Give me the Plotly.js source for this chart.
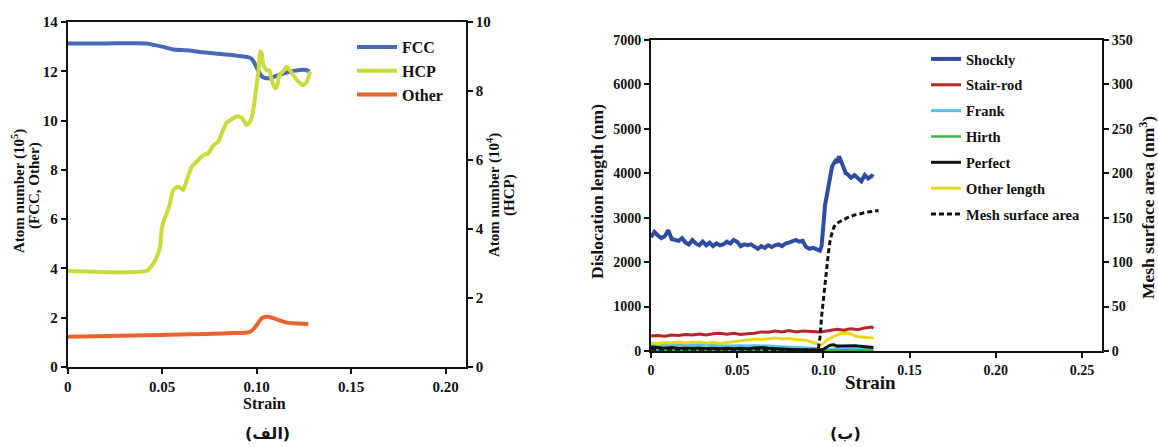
<!DOCTYPE html>
<html>
<head>
<meta charset="utf-8">
<script src="https://cdn.plot.ly/plotly-3.0.1.min.js"></script>
<style>
  html, body { margin: 0; padding: 0; background: #ffffff; }
  #chart { width: 1158px; height: 447px; }
</style>
</head>
<body>
<div id="chart"></div>
<script>
// ---------- Panel (الف): atom counts vs strain ----------
const fccStrain = [0, 0.02, 0.0418, 0.045, 0.05, 0.056, 0.063, 0.07, 0.078, 0.0877, 0.0965, 0.098, 0.1, 0.1026, 0.1044, 0.107, 0.1106, 0.1159, 0.1229, 0.126, 0.128];
const fccCount = [13.13, 13.13, 13.13, 13.08, 13.0, 12.88, 12.85, 12.78, 12.72, 12.65, 12.55, 12.45, 12.15, 11.8, 11.73, 11.72, 11.82, 11.95, 12.05, 12.05, 11.99];

const hcpStrain = [0, 0.0418, 0.0453, 0.0471, 0.0489, 0.0497, 0.0506, 0.0524, 0.0541, 0.0556, 0.0577, 0.0594, 0.0612, 0.063, 0.0656, 0.0683, 0.0718, 0.0744, 0.0771, 0.0797, 0.0815, 0.0841, 0.0868, 0.0894, 0.0921, 0.0947, 0.0965, 0.0982, 0.0996, 0.1009, 0.1018, 0.1026, 0.1035, 0.1053, 0.1067, 0.1079, 0.1097, 0.1109, 0.112, 0.1138, 0.1159, 0.1176, 0.1194, 0.122, 0.1247, 0.1265, 0.1282];
const hcpCount = [2.785, 2.785, 3.0, 3.19, 3.48, 3.97, 4.2, 4.45, 4.74, 5.1, 5.22, 5.2, 5.13, 5.42, 5.8, 5.95, 6.14, 6.2, 6.43, 6.53, 6.77, 7.08, 7.18, 7.27, 7.23, 7.01, 7.1, 7.45, 8.03, 8.56, 9.14, 9.1, 8.75, 8.6, 8.6, 8.32, 8.08, 8.17, 8.46, 8.56, 8.7, 8.6, 8.46, 8.27, 8.17, 8.27, 8.56];

const otherStrain = [0, 0.0489, 0.0841, 0.0965, 0.1, 0.1026, 0.1061, 0.1106, 0.1159, 0.121, 0.1273];
const otherCount = [1.23, 1.30, 1.37, 1.43, 1.70, 1.98, 2.04, 1.93, 1.80, 1.77, 1.74];

const atomTicks = [0, 0.05, 0.1, 0.15, 0.2];
const atomTickText = ["0", "0.05", "0.10", "0.15", "0.20"];

// ---------- Panel (ب): dislocation lengths vs strain ----------
const shocklyStrain = [0, 0.002, 0.004, 0.006, 0.008, 0.010, 0.012, 0.014, 0.016, 0.018, 0.020, 0.022, 0.024, 0.026, 0.028, 0.030, 0.032, 0.034, 0.036, 0.038, 0.040, 0.042, 0.044, 0.046, 0.048, 0.050, 0.052, 0.054, 0.056, 0.058, 0.060, 0.062, 0.064, 0.066, 0.068, 0.070, 0.072, 0.074, 0.076, 0.078, 0.080, 0.082, 0.084, 0.086, 0.088, 0.090, 0.092, 0.094, 0.096, 0.098, 0.099, 0.100, 0.101, 0.102, 0.103, 0.104, 0.105, 0.106, 0.107, 0.108, 0.109, 0.110, 0.111, 0.112, 0.113, 0.114, 0.116, 0.118, 0.120, 0.122, 0.124, 0.126, 0.128, 0.129];
const shocklyLen = [2560, 2680, 2600, 2540, 2580, 2720, 2520, 2500, 2480, 2540, 2440, 2400, 2500, 2420, 2380, 2460, 2380, 2440, 2360, 2420, 2380, 2400, 2460, 2420, 2500, 2460, 2360, 2400, 2380, 2400, 2340, 2300, 2360, 2320, 2380, 2340, 2380, 2400, 2360, 2420, 2440, 2480, 2500, 2460, 2480, 2340, 2300, 2320, 2280, 2260, 2380, 2900, 3300, 3500, 3720, 3900, 4150, 4220, 4280, 4240, 4380, 4300, 4200, 4100, 4000, 3980, 3900, 3960, 3880, 3820, 3960, 3880, 3940, 3920];

const lowStrain = [0, 0.004, 0.008, 0.012, 0.016, 0.020, 0.024, 0.028, 0.032, 0.036, 0.040, 0.044, 0.048, 0.052, 0.056, 0.060, 0.064, 0.068, 0.072, 0.076, 0.080, 0.084, 0.088, 0.092, 0.096, 0.098, 0.100, 0.102, 0.104, 0.106, 0.108, 0.110, 0.112, 0.114, 0.116, 0.118, 0.120, 0.124, 0.128, 0.129];
const stairRodLen = [340, 350, 330, 360, 350, 370, 360, 380, 360, 390, 400, 380, 400, 370, 390, 400, 430, 420, 450, 430, 460, 430, 450, 440, 420, 430, 440, 450, 460, 480, 490, 480, 470, 490, 500, 490, 480, 520, 540, 510];
const frankLen = [150, 140, 150, 140, 135, 145, 130, 140, 130, 135, 120, 115, 110, 120, 110, 120, 110, 115, 100, 95, 90, 85, 80, 70, 55, 40, 30, 20, 35, 45, 50, 45, 40, 45, 45, 40, 40, 35, 30, 30];
const hirthLen = [20, 15, 20, 15, 18, 15, 20, 18, 22, 20, 20, 18, 22, 25, 20, 25, 22, 20, 18, 15, 15, 15, 12, 12, 10, 10, 10, 12, 15, 18, 20, 18, 20, 18, 15, 15, 15, 18, 20, 20];
const perfectLen = [90, 80, 70, 80, 60, 70, 60, 70, 55, 60, 50, 60, 50, 60, 50, 70, 80, 60, 50, 40, 40, 30, 30, 20, 20, 25, 40, 90, 130, 140, 110, 115, 120, 125, 130, 120, 110, 100, 90, 80];
const otherLen = [180, 170, 190, 180, 200, 180, 190, 200, 180, 190, 170, 190, 220, 240, 250, 270, 260, 280, 290, 270, 280, 260, 250, 220, 170, 120, 170, 250, 290, 330, 370, 400, 390, 410, 380, 350, 320, 310, 300, 290];

const meshStrain = [0, 0.02, 0.04, 0.06, 0.08, 0.094, 0.097, 0.098, 0.099, 0.100, 0.101, 0.102, 0.103, 0.104, 0.105, 0.106, 0.107, 0.108, 0.110, 0.114, 0.118, 0.122, 0.126, 0.130, 0.132];
const meshArea = [2, 2, 2, 2, 1, 1, 2, 15, 40, 60, 78, 92, 112, 126, 134, 139, 142, 144, 146, 150, 153, 155, 156.5, 157.5, 158];

const dislTicks = [0, 0.05, 0.1, 0.15, 0.2, 0.25];
const dislTickText = ["0", "0.05", "0.10", "0.15", "0.20", "0.25"];

// ---------- styling helpers ----------
const SERIF = "Liberation Serif";
const font = (size, color) => ({ family: SERIF, size: size, color: color || "#111", weight: "bold" });

const boxAxis = extra => Object.assign({
  showline: true, linecolor: "#111", linewidth: 2,
  ticks: "outside", ticklen: 5, tickwidth: 2, tickcolor: "#111",
  showgrid: false, zeroline: false, fixedrange: true
}, extra);

const traces = [
  // panel (الف)
  { x: fccStrain, y: fccCount, xaxis: "x", yaxis: "y", name: "FCC", mode: "lines",
    line: { color: "#4a68b3", width: 4, shape: "spline", smoothing: 0.6 }, legend: "legend" },
  { x: hcpStrain, y: hcpCount, xaxis: "x", yaxis: "y2", name: "HCP", mode: "lines",
    line: { color: "#cbdb3c", width: 4, shape: "spline", smoothing: 0.5 }, legend: "legend" },
  { x: otherStrain, y: otherCount, xaxis: "x", yaxis: "y", name: "Other", mode: "lines",
    line: { color: "#e9632d", width: 4, shape: "spline", smoothing: 0.8 }, legend: "legend" },

  // panel (ب) — each entry in its own group so the legend rows get extra spacing
  { x: shocklyStrain, y: shocklyLen, xaxis: "x2", yaxis: "y3", name: "Shockly", mode: "lines",
    line: { color: "#2f4d9f", width: 4 }, legend: "legend2", legendgroup: "g1" },
  { x: lowStrain, y: stairRodLen, xaxis: "x2", yaxis: "y3", name: "Stair-rod", mode: "lines",
    line: { color: "#b5272d", width: 3 }, legend: "legend2", legendgroup: "g2" },
  { x: lowStrain, y: frankLen, xaxis: "x2", yaxis: "y3", name: "Frank", mode: "lines",
    line: { color: "#4fc3ec", width: 3 }, legend: "legend2", legendgroup: "g3" },
  { x: lowStrain, y: hirthLen, xaxis: "x2", yaxis: "y3", name: "Hirth", mode: "lines",
    line: { color: "#3bb54a", width: 2.5 }, legend: "legend2", legendgroup: "g4" },
  { x: lowStrain, y: perfectLen, xaxis: "x2", yaxis: "y3", name: "Perfect", mode: "lines",
    line: { color: "#111111", width: 3 }, legend: "legend2", legendgroup: "g5" },
  { x: lowStrain, y: otherLen, xaxis: "x2", yaxis: "y3", name: "Other length", mode: "lines",
    line: { color: "#e9d81e", width: 3 }, legend: "legend2", legendgroup: "g6" },
  { x: meshStrain, y: meshArea, xaxis: "x2", yaxis: "y4", name: "Mesh surface area", mode: "lines",
    line: { color: "#111111", width: 3, dash: "5px,3px" }, legend: "legend2", legendgroup: "g7" }
];

const W = 1158, H = 447;
const px = v => v / W;
const py = v => 1 - v / H;

// centred paper-space label
const label = (text, x, y, size, angle, fam) => ({
  text: text, x: px(x), y: py(y), xref: "paper", yref: "paper",
  xanchor: "center", yanchor: "middle", showarrow: false,
  textangle: angle || 0,
  font: fam ? { family: fam, size: size, color: "#111", weight: "bold" } : font(size)
});

const layout = {
  width: W, height: H,
  margin: { l: 0, r: 0, t: 0, b: 0 },
  paper_bgcolor: "#ffffff", plot_bgcolor: "#ffffff",
  font: font(15),

  xaxis: boxAxis({ domain: [px(67.7), px(465.7)], range: [0, 0.2106], anchor: "y",
    tickvals: atomTicks, ticktext: atomTickText, mirror: true, tickfont: font(15) }),
  yaxis: boxAxis({ domain: [py(367), py(22)], range: [0, 14], dtick: 2, anchor: "x", tickfont: font(15) }),
  yaxis2: boxAxis({ range: [0, 10], dtick: 2, overlaying: "y", side: "right", anchor: "x", tickfont: font(15) }),

  xaxis2: boxAxis({ domain: [px(651), px(1102)], range: [0, 0.2616], anchor: "y3",
    tickvals: dislTicks, ticktext: dislTickText, mirror: true, tickfont: font(14) }),
  yaxis3: boxAxis({ domain: [py(351), py(40)], range: [0, 7000], dtick: 1000, anchor: "x2", tickfont: font(14) }),
  yaxis4: boxAxis({ range: [0, 350], dtick: 50, overlaying: "y3", side: "right", anchor: "x2", tickfont: font(14) }),

  legend: { x: px(352), y: py(30), xanchor: "left", yanchor: "top", bgcolor: "rgba(0,0,0,0)",
    itemwidth: 40, font: font(16), tracegroupgap: 0 },
  legend2: { x: px(926), y: py(43), xanchor: "left", yanchor: "top", bgcolor: "rgba(0,0,0,0)",
    itemwidth: 30, font: font(14.5), tracegroupgap: 4, traceorder: "grouped" },

  annotations: [
    label("Strain", 264, 403, 16),
    label("Atom number (10<sup>5</sup>)", 18, 191, 15, -90),
    label("(FCC, Other)", 34, 186, 15, -90),
    label("Atom number (10<sup>4</sup>)", 494, 195, 15, -90),
    label("(HCP)", 510, 195, 15, -90),

    label("Strain", 870, 382, 19),
    label("Dislocation length (nm)", 597, 192, 17.5, -90),
    label("Mesh surface area (nm<sup>3</sup>)", 1147, 208, 17.5, -90),

    label("(الف)", 267, 433, 16, 0, "DejaVu Sans"),
    label("(ب)", 845, 433, 16, 0, "DejaVu Sans")
  ]
};

Plotly.newPlot("chart", traces, layout, { staticPlot: true, displayModeBar: false });
</script>
</body>
</html>
